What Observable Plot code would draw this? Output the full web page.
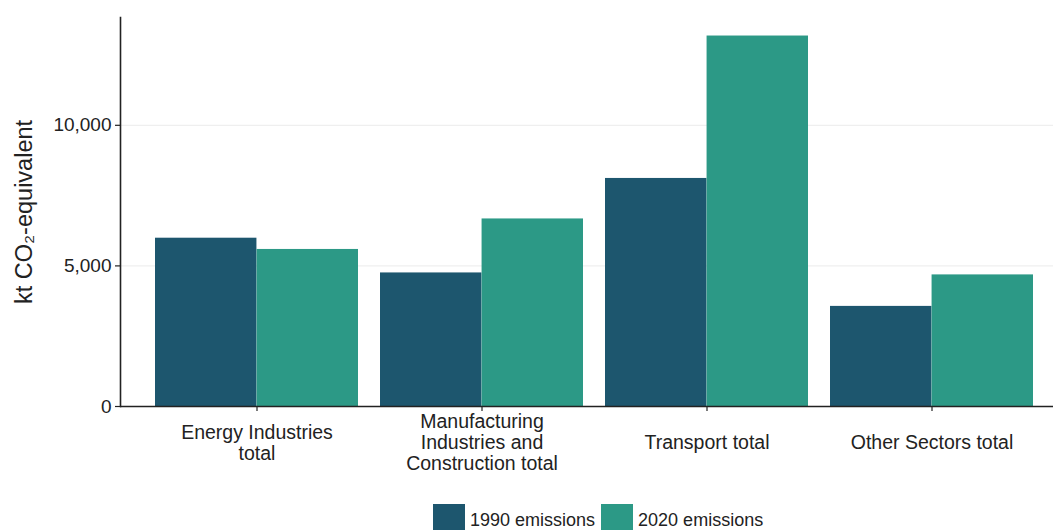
<!DOCTYPE html>
<html>
<head>
<meta charset="utf-8">
<script src="https://cdn.jsdelivr.net/npm/d3@7"></script>
<script src="https://cdn.jsdelivr.net/npm/@observablehq/plot@0.6"></script>
<style>
  html, body { margin: 0; padding: 0; background: #ffffff; }
  body { font-family: "Liberation Sans", Arial, sans-serif; width: 1053px; height: 530px; overflow: hidden; position: relative; }
  #legend { position: absolute; top: 504px; left: 433px; display: flex; align-items: center; font-size: 18px; color: #222; }
  #legend .sw { width: 32px; height: 32px; }
  #legend .lab { margin: 0 6px 0 5px; white-space: nowrap; }
</style>
</head>
<body>
<div id="chart"></div>
<div id="legend"></div>
<script>
// ---- data ----
const categories = ["Energy Industries total", "Manufacturing Industries and Construction total", "Transport total", "Other Sectors total"];
const tickLabels = ["Energy Industries\ntotal", "Manufacturing\nIndustries and\nConstruction total", "Transport total", "Other Sectors total"];
const series = ["1990 emissions", "2020 emissions"];
const emissions1990 = [5985, 4750, 8110, 3560];
const emissions2020 = [5585, 6670, 13175, 4680];
const yTicks = [0, 5000, 10000];
const yLabel = "kt CO₂-equivalent";
const colors = ["#1d566e", "#2c9986"];

const rows = [];
categories.forEach((c, i) => {
  rows.push({category: c, series: series[0], value: emissions1990[i]});
  rows.push({category: c, series: series[1], value: emissions2020[i]});
});
const labelOf = new Map(categories.map((c, i) => [c, tickLabels[i]]));

const xOpts = {type: "band", domain: categories, range: [120, 1068], paddingInner: 0.1, paddingOuter: 0.15, align: 0.5};
const xs = Plot.scale({x: xOpts});
const bw = xs.bandwidth ?? (948 / 4.2 * 0.9);
const half = bw / 2;
const yMax = d3.max(rows, d => d.value) * 1.05;
const ink = "#222222";
const fmt = d3.format(",");

const chart = Plot.plot({
  width: 1053,
  height: 480,
  marginLeft: 120,
  marginRight: 0,
  marginTop: 17,
  marginBottom: 74,
  style: {fontFamily: "'Liberation Sans', Arial, sans-serif", background: "#ffffff", color: ink},
  x: xOpts,
  y: {domain: [0, yMax]},
  color: {domain: series, range: colors},
  marks: [
    Plot.ruleY([5000, 10000], {stroke: "#ebebeb", strokeWidth: 1}),
    Plot.barY(rows.filter(d => d.series === series[0]), {x: "category", y: "value", fill: "series", insetRight: half, insetLeft: 0}),
    Plot.barY(rows.filter(d => d.series === series[1]), {x: "category", y: "value", fill: "series", insetLeft: half, insetRight: 0}),
    Plot.axisY({ticks: yTicks, tickFormat: d => fmt(d), tickSize: 5, tickPadding: 4, fontSize: 19, label: null, stroke: ink, strokeWidth: 1.2, fill: ink}),
    Plot.axisX({tickSize: 5, tickFormat: () => "", label: null, stroke: ink, strokeWidth: 1.2}),
    Plot.text(categories, {x: d => d, text: d => labelOf.get(d), frameAnchor: "bottom", dy: 36, lineAnchor: "middle", lineHeight: 1.08, fontSize: 19.5, fill: ink}),
    Plot.text([yLabel], {frameAnchor: "left", textAnchor: "middle", lineAnchor: "middle", dx: -96, rotate: -90, fontSize: 23.5, fill: ink}),
    Plot.ruleY([0], {stroke: ink, strokeWidth: 1.6}),
    Plot.frame({anchor: "left", stroke: ink, strokeWidth: 1.6})
  ]
});
document.getElementById("chart").appendChild(chart);

const legend = document.getElementById("legend");
series.forEach((s, i) => {
  const sw = document.createElement("div");
  sw.className = "sw";
  sw.style.background = colors[i];
  const lab = document.createElement("span");
  lab.className = "lab";
  lab.textContent = s;
  legend.appendChild(sw);
  legend.appendChild(lab);
});
</script>
</body>
</html>
